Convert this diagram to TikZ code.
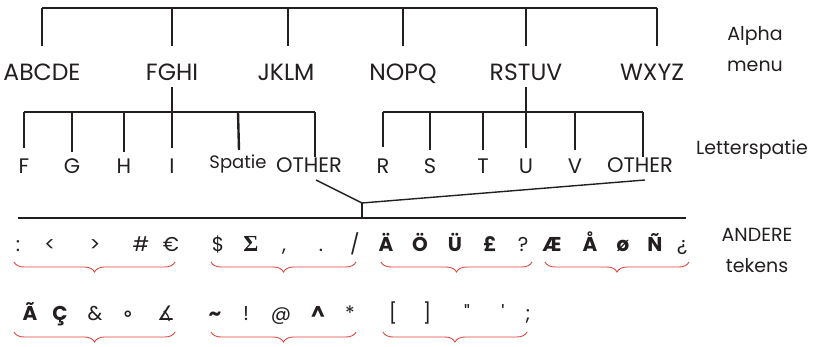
\documentclass[tikz,border=0pt]{standalone}
\usepackage{fontspec}
\setmainfont{Poppins}
\newfontfamily\symfont{DejaVu Sans}
\newfontfamily\greekfont{Liberation Serif}
\usetikzlibrary{calc,positioning,decorations.pathreplacing}
\definecolor{kb-ink}{HTML}{231F20}
\definecolor{kb-brace}{HTML}{E0453F}
\tikzset{
  bar/.style={kb-ink, line width=1.6pt},
  tick/.style={kb-ink, line width=2.4pt},
  link/.style={kb-ink, line width=1.4pt},
  lbl/.style={inner sep=0pt, anchor=base, text=kb-ink, font=\fontsize{23.5}{26}\selectfont},
  sub/.style={inner sep=0pt, anchor=base, text=kb-ink, font=\fontsize{21}{24}\selectfont},
  side/.style={inner sep=0pt, anchor=base, align=center, text=kb-ink, font=\fontsize{19}{31}\selectfont},
  chr/.style={inner sep=0pt, anchor=base, text=kb-ink, font=\fontsize{20}{22}\selectfont},
  grp/.style={kb-brace, line width=0.9pt, decorate, decoration={brace, mirror, amplitude=10pt}},
}

\begin{document}
\begin{tikzpicture}[x=1pt, y=-1pt]
    \useasboundingbox (0,0) rectangle (814,347);

    % Alpha menu: top level
    \coordinate (top) at (0,8);
    \coordinate (topend) at (0,46);
    \foreach \n/\x/\t in {abcde/42/ABCDE, fghi/172/FGHI, jklm/286/JKLM,
                          nopq/403/NOPQ, rstuv/526/RSTUV, wxyz/652/WXYZ} {
        \node[lbl] (\n) at (\x,81) {\t};
    }
    \foreach \n/\x in {abcde/42, fghi/172, jklm/288, nopq/403, rstuv/526, wxyz/657} {
        \draw[tick] (\x,0 |- top) -- (\x,0 |- topend);
    }
    \draw[bar] (42,8) -- (657,8);
    \node[side] (alpha) at (755,72) {Alpha\\menu};

    % Letterspatie: second level
    \coordinate (mid) at (0,112);
    \coordinate (stem) at (0,87);
    \foreach \n/\x/\t/\e in {f/24/F/148, g/72/G/152, h/124/H/152, i/172/I/148,
                             r/383/R/147, s/430/S/150, t/483/T/150, u/526/U/148, v/575/V/150} {
        \node[sub] (\n) at (\x,174) {\t};
        \draw[tick] (\n |- mid) -- (\x,\e);
    }
    \node[sub, font=\fontsize{18}{20}\selectfont] (spatie) at (238,169) {Spatie};
    \node[sub] (otherl) at (309,173) {OTHER};
    \node[sub] (otherr) at (640,173) {OTHER};
    \draw[tick] (spatie |- mid) -- (239,150);
    \draw[tick] ([xshift=6pt]otherl.base |- mid) -- (315,157);
    \draw[tick] ([xshift=3pt]otherr.base |- mid) -- (643,157);
    \draw[bar] (f |- mid) -- (315,112);
    \draw[bar] (r |- mid) -- (643,112);
    \draw[bar] (fghi |- stem) -- (fghi |- mid);
    \draw[bar] (rstuv |- stem) -- (rstuv |- mid);
    \node[side] (letters) at (752,155) {Letterspatie};

    % OTHER leads to the other characters
    \coordinate (jn) at (362,203);
    \coordinate (sepl) at (18,218);
    \coordinate (sepr) at (686,218);
    \draw[link] ($(otherl.base)+(7,7)$) -- (jn) -- ($(otherr.base)+(5,7)$);
    \draw[tick] (jn) -- (jn |- sepl);
    \draw[bar] (sepl) -- (sepr);
    \node[side] (andere) at (757,273) {ANDERE\\tekens};

    % first row of characters
    \foreach \x/\s [count=\i] in {18/{:}, 50/{<}, 95/{>}, 141/{\#}, 171/{€},
        218/{\$}, 251/{\greekfont\bfseries\fontsize{23}{24}\selectfont Σ}, 284/{,}, 321/{.}, 355/{/},
        386/{\bfseries Ä}, 420/{\bfseries Ö}, 455/{\bfseries Ü}, 490/{\bfseries £}, 523/{?},
        552/{\bfseries Æ}, 590/{\bfseries Å}, 623/{\bfseries ø}, 655/{\bfseries Ñ}, 682/{¿}} {
        \node[chr] (a\i) at (\x,252) {\s};
    }
    % second row of characters
    \foreach \x/\s [count=\i] in {30/{\bfseries Ã}, 60/{\bfseries Ç}, 95/{\&}, 128/{\symfont\bfseries ∘}, 166/{\symfont ∡},
        215/{\bfseries\textasciitilde}, 246/{!}, 281/{@}, 318/{\bfseries\textasciicircum}, 350/{*},
        393/{[}, 427/{]}, 467/{\textquotedbl}, 503/{\textquotesingle}, 528/{;}} {
        \node[chr] (b\i) at (\x,320) {\s};
    }

    % braces under the groups
    \foreach \l/\r/\y in {14/175/262, 211/356/262, 381/532/262, 545/689/262,
                          14/175/332, 211/356/332, 383/527/332} {
        \draw[grp] (\l,\y) -- (\r,\y);
    }
\end{tikzpicture}
\end{document}
